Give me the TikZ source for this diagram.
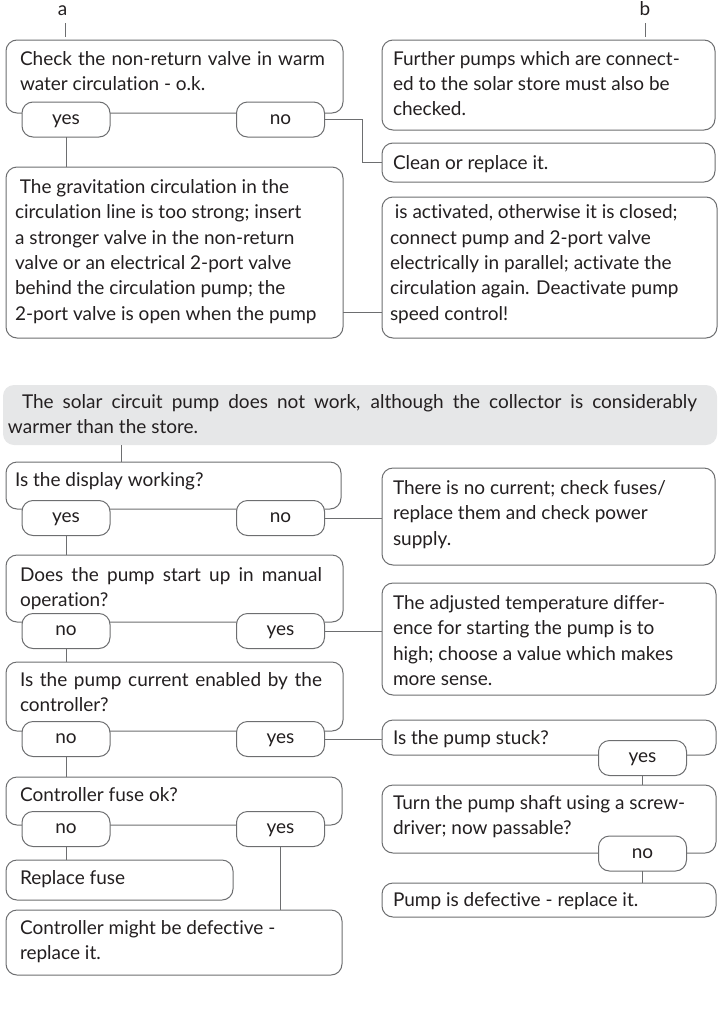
\documentclass[tikz,border=0pt]{standalone}
\usepackage{fontspec}
\setmainfont{Lato}[Ligatures=NoCommon]
\usetikzlibrary{calc}
\definecolor{ln}{HTML}{6D6E70}
\definecolor{tx}{HTML}{231F20}
\definecolor{gr}{HTML}{E6E7E8}
\newcommand\fsz{\fontsize{19}{25.3}\selectfont}
\newcommand{\rbox}[6][box]{%
  \pgfmathsetmacro\bw{#5-#3}\pgfmathsetmacro\bh{#6-#4}%
  \node[#1, minimum width=\bw pt, minimum height=\bh pt, anchor=north west] (#2) at (#3,#4) {};}
\newcommand{\btx}[4]{\node[txt] (#1) at (#2,#3-17.71) {\strut #4};}
\newcommand{\pl}[4]{\node[pill] (#1) at (#2,#3) {#4};}
\begin{document}
\begin{tikzpicture}[x=1pt,y=-1pt,
  box/.style={draw=ln, line width=1pt, rounded corners=11pt, inner sep=0pt, outer sep=0pt, fill=white},
  greybox/.style={draw=none, fill=gr, rounded corners=11pt, inner sep=0pt, outer sep=0pt},
  pill/.style={draw=ln, line width=1pt, rounded corners=11pt, fill=white, inner sep=0pt, outer sep=0pt,
    minimum width=88pt, minimum height=35pt, text height=9.6pt, text depth=0pt, font=\fsz, text=tx},
  txt/.style={inner sep=0pt, outer sep=0pt, align=left, font=\fsz, text=tx, anchor=north west},
  lbl/.style={inner sep=0pt, outer sep=0pt, font=\fsz, text=tx, anchor=base},
  conn/.style={draw=ln, line width=1pt},
]
\useasboundingbox (0,0) rectangle (723,1031);

% ---------- top section ----------
\node[lbl] (la) at (62.5,15) {a};
\node[lbl] (lb) at (645,15) {b};
\coordinate (ta) at (65,23);
\coordinate (tb) at (645,23);

\rbox{chk}{6}{40}{343}{113}
\btx{chkt}{20}{65}{\makebox[305pt][s]{Check the non-return valve in warm}\\water circulation - o.k.}
\rbox{fur}{382}{40}{715}{130}
\btx{furt}{393}{65}{Further pumps which are connect-\\ed to the solar store must also be\\checked.}
\rbox{cln}{382}{143}{715}{182}
\btx{clnt}{393}{169.5}{Clean or replace it.}
\rbox{grv}{6}{167}{343}{338}
\btx{grvt}{15}{193.5}{\ The gravitation circulation in the\\circulation line is too strong; insert\\a stronger valve in the non-return\\valve or an electrical 2-port valve\\behind the circulation pump; the\\2-port valve is open when the pump}
\rbox{act}{382}{197}{717}{338}
\btx{actt}{390}{218.8}{\ is activated, otherwise it is closed;\\connect pump and 2-port valve\\electrically in parallel; activate the\\circulation again. Deactivate pump\\speed control!}
\pl{y1}{66}{119.5}{yes}
\pl{n1}{280.5}{119.5}{no}

\draw[conn, shorten >=3pt] (ta) -- (ta |- chk.north);
\draw[conn, shorten >=3pt] (tb) -- (tb |- fur.north);
\draw[conn] (y1.south) -- (y1.south |- grv.north);
\coordinate (k1) at (362,119.5);
\draw[conn] (n1.east) -- (k1) |- (cln.west);
\coordinate (g1) at (0,312);
\draw[conn] (grv.east |- g1) -- (act.west |- g1);

% ---------- lower section ----------
\rbox[greybox]{sol}{3}{385}{717}{445}
\btx{solt}{8}{408.5}{\hspace*{14pt}\makebox[675pt][s]{The solar circuit pump does not work, although the collector is considerably}\\warmer than the store.}
\coordinate (tx1) at (121,0);

\rbox{dsp}{6}{462}{341}{509}
\btx{dspt}{15}{486.5}{Is the display working?}
\rbox{thr}{382}{468}{715}{565}
\btx{thrt}{393}{494.5}{There is no current; check fuses/\\replace them and check power\\supply.}
\pl{y2}{66}{518}{yes}
\pl{n2}{280.5}{518}{no}

\rbox{dos}{6}{555}{343}{622}
\btx{dost}{20}{581.5}{\makebox[302pt][s]{Does the pump start up in manual}\\operation?}
\rbox{adj}{382}{583}{716}{695}
\btx{adjt}{393}{609.5}{The adjusted temperature differ-\\ence for starting the pump is to\\high; choose a value which makes\\more sense.}
\pl{n3}{66}{631}{no}
\pl{y3}{280.5}{631}{yes}

\rbox{cur}{6}{662}{343}{731}
\btx{curt}{20}{686.5}{\makebox[302pt][s]{Is the pump current enabled by the}\\controller?}
\pl{n4}{66}{739}{no}
\pl{y4}{280.5}{739}{yes}

\rbox{stk}{382}{720}{716}{755}
\btx{stkt}{393}{744.5}{Is the pump stuck?}
\pl{y5}{642.5}{758}{yes}
\rbox{trn}{382}{785}{716}{853}
\btx{trnt}{393}{809.5}{Turn the pump shaft using a screw-\\driver; now passable?}
\pl{n6}{642.5}{853.5}{no}
\rbox{pmp}{382}{883}{716}{917}
\btx{pmpt}{393}{906.5}{Pump is defective - replace it.}

\rbox{fus}{6}{777}{342}{825}
\btx{fust}{20}{801.5}{Controller fuse ok?}
\pl{n7}{66}{829}{no}
\pl{y7}{280.5}{829}{yes}
\rbox{rpl}{6}{860}{233}{900}
\btx{rplt}{20}{884.5}{Replace fuse}
\rbox{mgt}{6}{910}{342}{975}
\btx{mgtt}{20}{934.5}{Controller might be defective -\\replace it.}

\draw[conn] (sol.south -| tx1) -- (tx1 |- dsp.north);
\draw[conn] (n2.east) -- (n2.east -| thr.west);
\draw[conn] (y2.south) -- (y2.south |- dos.north);
\draw[conn] (y3.east) -- (y3.east -| adj.west);
\draw[conn] (n3.south) -- (n3.south |- cur.north);
\draw[conn] (y4.east) -- (y4.east -| stk.west);
\draw[conn] (n4.south) -- (n4.south |- fus.north);
\draw[conn] (y5.south) -- (y5.south |- trn.north);
\draw[conn] (n6.south) -- (n6.south |- pmp.north);
\draw[conn] (n7.south) -- (n7.south |- rpl.north);
\draw[conn] (y7.south) -- (y7.south |- mgt.north);
\end{tikzpicture}
\end{document}
